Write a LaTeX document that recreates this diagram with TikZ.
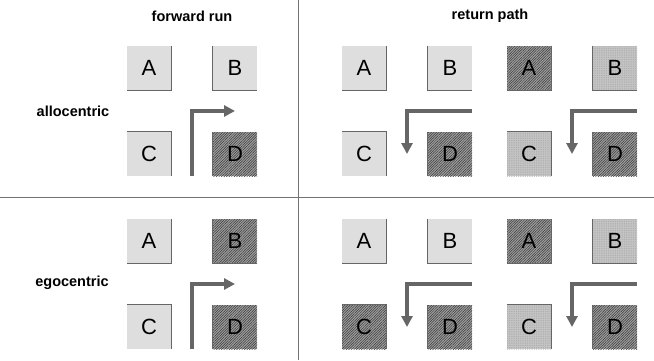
\documentclass[tikz,border=0pt]{standalone}
\usepackage{fontspec}
\setmainfont{Liberation Sans}
\usetikzlibrary{arrows.meta, patterns.meta, calc}

\begin{document}
\begin{tikzpicture}[
    x=1pt, y=-1pt,
    cell/.style={rectangle, minimum size=44pt, inner sep=0pt, font=\fontsize{22}{24}\selectfont},
    plain/.style={cell, fill=black!13},
    speckled/.style={cell, preaction={fill=black!23}, pattern={Dots[distance=1.8pt, radius=0.4pt]}, pattern color=black!38},
    hatched/.style={cell, preaction={fill=black!38}, pattern={Lines[angle=45, distance=1.8pt, line width=0.5pt]}, pattern color=black!78},
    rim/.style={draw=black!60, line width=0.9pt},
    head/.style={font=\fontsize{14.5}{16}\selectfont\bfseries},
    route/.style={-{Triangle[length=11pt, width=11pt]}, line width=4pt, color=black!60},
    divider/.style={draw=black!55, line width=0.8pt}
]
    \useasboundingbox (0,0) rectangle (654,360);
    \draw[divider] (298,0) -- (298,360);
    \draw[divider] (0,197) -- (654,197);

    \node[head] (fwd) at (192,16) {forward run};
    \node[head] (ret) at (490,16) {return path};
    \node[head] (allo) at (73,111) {allocentric};
    \node[head] (ego) at (72,283) {egocentric};

    % allocentric
    \node[plain] (a1A) at (149,68) {A};
    \node[plain] (a1B) at (235,68) {B};
    \node[plain] (a1C) at (149,154) {C};
    \node[hatched] (a1D) at (235,154) {D};
    \node[plain] (a2A) at (364,68) {A};
    \node[plain] (a2B) at (450,68) {B};
    \node[plain] (a2C) at (364,154) {C};
    \node[hatched] (a2D) at (450,154) {D};
    \node[hatched] (a3A) at (529,68) {A};
    \node[speckled] (a3B) at (615,68) {B};
    \node[speckled] (a3C) at (529,154) {C};
    \node[hatched] (a3D) at (615,154) {D};

    % egocentric
    \node[plain] (e1A) at (149,241) {A};
    \node[hatched] (e1B) at (235,241) {B};
    \node[plain] (e1C) at (149,327) {C};
    \node[hatched] (e1D) at (235,327) {D};
    \node[plain] (e2A) at (364,241) {A};
    \node[plain] (e2B) at (450,241) {B};
    \node[hatched] (e2C) at (364,327) {C};
    \node[hatched] (e2D) at (450,327) {D};
    \node[hatched] (e3A) at (529,241) {A};
    \node[speckled] (e3B) at (615,241) {B};
    \node[speckled] (e3C) at (529,327) {C};
    \node[hatched] (e3D) at (615,327) {D};

    \foreach \g in {a1, a2, a3, e1, e2, e3} {
        \draw[rim] (\g A.north east) |- (\g A.south west);
        \draw[rim] (\g B.north west) |- (\g B.south east);
        \draw[rim] (\g C.north west) -| (\g C.south east);
        \draw[rim] (\g D.north west) -- (\g D.south west);
    }

    \foreach \g in {a1, e1}
        \draw[route] ($(\g C.south east)!0.5!(\g D.south west)$) |- ($(\g B.south)!0.5!(\g D.north)$);
    \foreach \g in {a2, a3, e2, e3}
        \draw[route] ($(\g B.south east)!0.5!(\g D.north east)$) -| ($(\g C.east)!0.5!(\g D.west)$);
\end{tikzpicture}
\end{document}
